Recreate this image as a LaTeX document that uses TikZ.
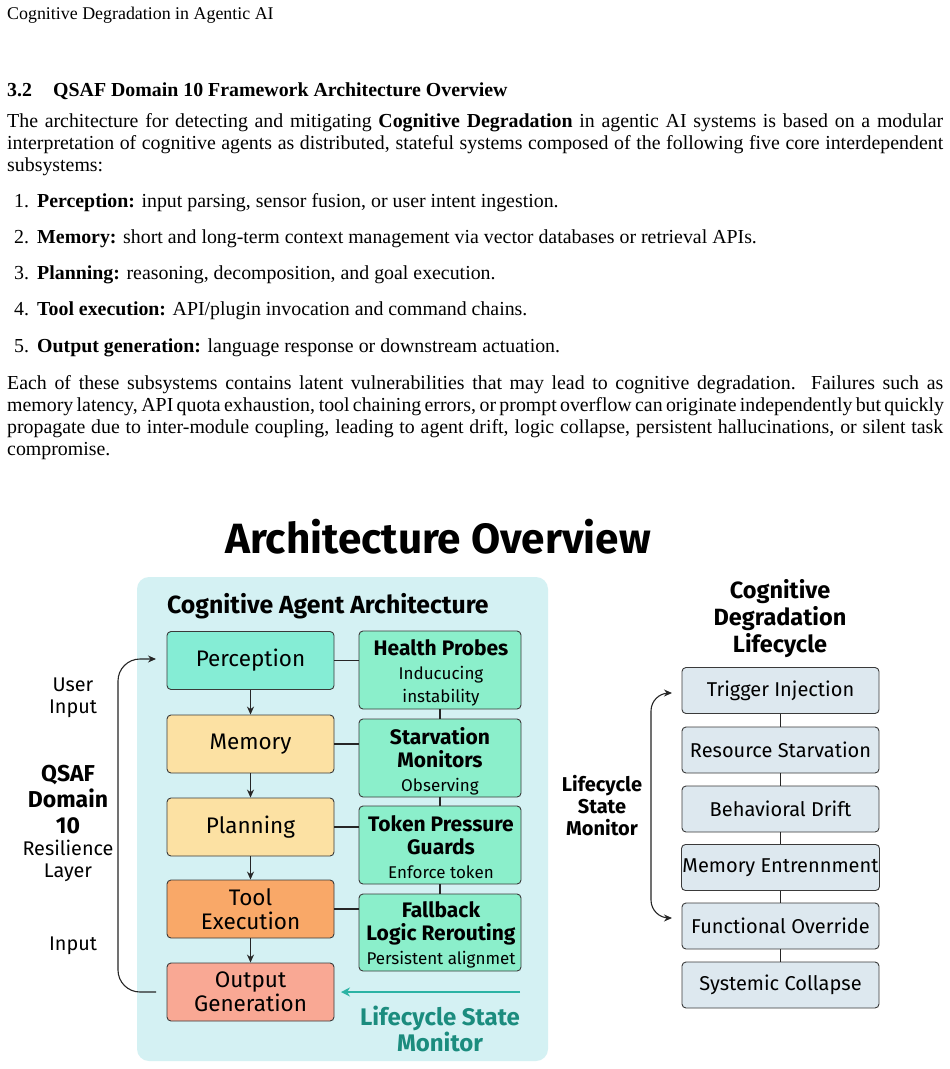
\documentclass[tikz,border=0pt]{standalone}
\usepackage{fontspec}
\setmainfont{Liberation Serif}
\newfontfamily\dgm{Fira Sans}
\usetikzlibrary{arrows.meta}
\definecolor{panelc}{HTML}{D4F1F3}
\definecolor{percc}{HTML}{85EDD5}
\definecolor{mintc}{HTML}{8BEFCB}
\definecolor{yelc}{HTML}{FCE1A3}
\definecolor{orac}{HTML}{F9A868}
\definecolor{salc}{HTML}{F9A894}
\definecolor{lifec}{HTML}{DDE8EF}
\definecolor{teal1}{HTML}{1B8C7E}
\definecolor{teal2}{HTML}{2BB3A4}
\definecolor{edgec}{HTML}{3A3A3A}
\begin{document}
\begin{tikzpicture}[x=1pt,y=-1pt,
  txt/.style={anchor=base west,inner sep=0pt,font=\fontsize{19.86}{22}\selectfont},
  lbox/.style={draw=edgec,line width=0.9pt,rounded corners=4pt,minimum width=167pt,minimum height=58pt,align=center,inner sep=1pt,font=\dgm\fontsize{22.5}{24}\selectfont},
  rbox/.style={draw=edgec,line width=0.9pt,rounded corners=4pt,fill=mintc,minimum width=162pt,minimum height=78pt,inner sep=0pt},
  rtext/.style={align=center,inner sep=0pt,font=\dgm\fontsize{17}{23.5}\selectfont},
  cbox/.style={draw=edgec,line width=0.9pt,rounded corners=4pt,fill=lifec,minimum width=197pt,minimum height=46pt,align=center,inner sep=1pt,font=\dgm\fontsize{20}{22}\selectfont},
  conn/.style={draw=black!85,line width=1.1pt},
  arr/.style={conn,-{Stealth[length=8pt,width=7pt]}},
  lab/.style={align=center,inner sep=0pt,font=\dgm\fontsize{19.8}{22}\selectfont}
]
\useasboundingbox (0,0) rectangle (950,1069);
\fill[white] (0,0) rectangle (950,1069);
% ---------------- page text ----------------
\node[txt,font=\fontsize{17.9}{20}\selectfont] (hdr) at (7,19) {Cognitive Degradation in Agentic AI};
\node[txt,font=\fontsize{19.86}{22}\selectfont\bfseries] (secn) at (7,96) {3.2};
\node[txt,font=\fontsize{19.86}{22}\selectfont\bfseries] (sect) at (53,96) {QSAF Domain 10 Framework Architecture Overview};
\node[txt] (p1) at (7,127) {\makebox[936pt][s]{The architecture for detecting and mitigating \textbf{Cognitive Degradation} in agentic AI systems is based on a modular}};
\node[txt] (p2) at (7,149) {\makebox[936pt][s]{interpretation of cognitive agents as distributed, stateful systems composed of the following five core interdependent}};
\node[txt] (p3) at (7,171) {subsystems:};
\node[txt] (n1) at (14,207) {1.};
\node[txt] (l1) at (37,207) {\textbf{Perception:} input parsing, sensor fusion, or user intent ingestion.};
\node[txt] (n2) at (14,243) {2.};
\node[txt] (l2) at (37,243) {\textbf{Memory:} short and long-term context management via vector databases or retrieval APIs.};
\node[txt] (n3) at (14,279) {3.};
\node[txt] (l3) at (37,279) {\textbf{Planning:} reasoning, decomposition, and goal execution.};
\node[txt] (n4) at (14,315) {4.};
\node[txt] (l4) at (37,315) {\textbf{Tool execution:} API/plugin invocation and command chains.};
\node[txt] (n5) at (14,352) {5.};
\node[txt] (l5) at (37,352) {\textbf{Output generation:} language response or downstream actuation.};
\node[txt] (q1) at (7,389) {\makebox[936pt][s]{Each of these subsystems contains latent vulnerabilities that may lead to cognitive degradation.\ \ Failures such as}};
\node[txt] (q2) at (7,411) {\makebox[936pt][s]{memory latency, API quota exhaustion, tool chaining errors, or prompt overflow can originate independently but quickly}};
\node[txt] (q3) at (7,433) {\makebox[936pt][s]{propagate due to inter-module coupling, leading to agent drift, logic collapse, persistent hallucinations, or silent task}};
\node[txt] (q4) at (7,455) {compromise.};
% ---------------- diagram ----------------
\node[inner sep=0pt,font=\dgm\fontsize{42.3}{46}\selectfont\bfseries] (title) at (438,537) {Architecture Overview};
\fill[panelc,rounded corners=12pt] (137,577) rectangle (548,1061);
\node[anchor=west,inner sep=0pt,font=\dgm\fontsize{24.8}{27}\selectfont\bfseries] (cat) at (167,606) {Cognitive Agent Architecture};
% left column
\node[lbox,fill=percc] (perc) at (250.5,660.5) {Perception};
\node[lbox,fill=yelc] (mem) at (250.5,744) {Memory};
\node[lbox,fill=yelc] (plan) at (250.5,827) {Planning};
\node[lbox,fill=orac] (tool) at (250.5,909) {Tool\\Execution};
\node[lbox,fill=salc] (out) at (250.5,992) {Output\\Generation};
% right column
\node[rbox] (hp) at (440,670) {};
\node[rbox] (sm) at (440,758) {};
\node[rbox] (tp) at (440,845) {};
\node[rbox,minimum height=77pt] (fb) at (440,932.5) {};
\node[rtext] (hpt) at (441,673) {{\fontsize{21}{23.5}\selectfont\bfseries Health Probes}\\Inducucing\\instability};
\node[rtext] (smt) at (440,761) {{\fontsize{21}{23.5}\selectfont\bfseries Starvation}\\{\fontsize{21}{23.5}\selectfont\bfseries Monitors}\\Observing};
\node[rtext] (tpt) at (441,847) {{\fontsize{21}{23.5}\selectfont\bfseries Token Pressure}\\{\fontsize{21}{23.5}\selectfont\bfseries Guards}\\Enforce token};
\node[rtext] (fbt) at (441,934.5) {{\fontsize{21}{23.5}\selectfont\bfseries Fallback}\\{\fontsize{21}{23.5}\selectfont\bfseries Logic Rerouting}\\Persistent alignmet};
% connectors
\draw[arr] (perc) -- (mem);
\draw[arr] (mem) -- (plan);
\draw[arr] (plan) -- (tool);
\draw[arr] (tool) -- (out);
\draw[conn] (perc.east) -- (perc.east -| hp.west);
\draw[conn] (mem.east) -- (mem.east -| sm.west);
\draw[conn] (plan.east) -- (plan.east -| tp.west);
\draw[conn] (tool.east) -- (tool.east -| fb.west);
\draw[conn] (hp) -- (sm);
\draw[conn] (sm) -- (tp);
\draw[conn] (tp) -- (fb);
% left labels and loop
\node[lab] (ui) at (73,698) {User\\Input};
\node[lab,font=\dgm\fontsize{23}{26}\selectfont\bfseries] (qs) at (68,799.5) {QSAF\\Domain\\10};
\node[lab] (rl) at (68,861) {Resilience\\Layer};
\node[lab] (inp) at (73,946) {Input};
\coordinate (lbot) at (156,992);
\coordinate (ltop) at (156,659);
\draw[arr,rounded corners=22pt] (lbot) -| (118,820) |- (ltop);
% teal monitor
\coordinate (tstart) at (520,992);
\draw[draw=teal2,line width=2pt,-{Stealth[length=9pt,width=9pt]}] (tstart) -- (out.east -| 341,0);
\node[align=center,inner sep=0pt,text=teal1,font=\dgm\fontsize{24}{26}\selectfont\bfseries] (lsm) at (440,1029) {Lifecycle State\\Monitor};
% lifecycle
\node[align=center,inner sep=0pt,font=\dgm\fontsize{23.5}{27}\selectfont\bfseries] (cdl) at (780,619) {Cognitive\\Degradation\\Lifecycle};
\node[cbox] (c1) at (780.5,690.5) {Trigger Injection};
\node[cbox] (c2) at (780.5,750) {Resource Starvation};
\node[cbox] (c3) at (780.5,809) {Behavioral Drift};
\node[cbox] (c4) at (780.5,867.5) {Memory Entrennment};
\node[cbox] (c5) at (780.5,926) {Functional Override};
\node[cbox] (c6) at (780.5,985) {Systemic Collapse};
\draw[conn] (c1) -- (c2);
\draw[conn] (c2) -- (c3);
\draw[conn] (c3) -- (c4);
\draw[conn] (c4) -- (c5);
\draw[conn] (c5) -- (c6);
\node[lab,font=\dgm\fontsize{20}{22}\selectfont\bfseries] (lsm2) at (602,806) {Lifecycle\\State\\Monitor};
\coordinate (rtop) at (672,693);
\coordinate (rbot) at (672,918);
\draw[conn,{Stealth[length=8pt,width=7pt]}-{Stealth[length=8pt,width=7pt]},rounded corners=18pt] (rtop) -| (651,805) |- (rbot);
\end{tikzpicture}
\end{document}
